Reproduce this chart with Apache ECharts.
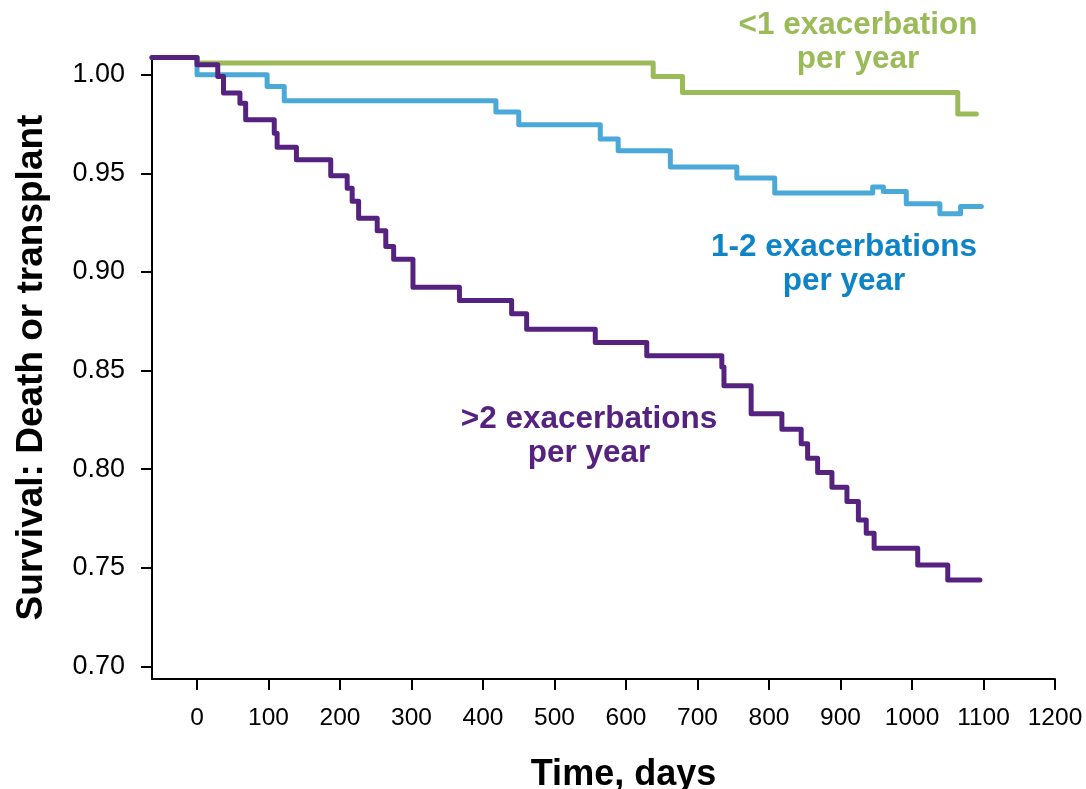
<!DOCTYPE html>
<html>
<head>
<meta charset="utf-8">
<title>Survival by exacerbation rate</title>
<script src="https://cdn.jsdelivr.net/npm/echarts@6/dist/echarts.min.js"></script>
<style>
  html, body { margin: 0; padding: 0; background: #fff; overflow: hidden; }
  #chart { width: 1086px; height: 789px; }
</style>
</head>
<body>
<div id="chart"></div>
<script>
// 刻度
const xTicks = [0, 100, 200, 300, 400, 500, 600, 700, 800, 900, 1000, 1100, 1200]
const yTicks = [0.70, 0.75, 0.80, 0.85, 0.90, 0.95, 1.00]

// <1 exacerbation per year
const lowDays = [-63, 0, 638, 679, 1064, 1090]
const lowSurv = [1.0088, 1.0059, 0.9991, 0.9910, 0.9801, 0.9801]

// 1-2 exacerbations per year
const midDays = [-63, 0, 98, 122, 418, 450, 564, 589, 662, 755, 808, 945, 960, 992, 1039, 1068, 1097]
const midSurv = [1.0088, 1.0000, 0.9941, 0.9868, 0.9811, 0.9746, 0.9674, 0.9615, 0.9532, 0.9476, 0.9400, 0.9431, 0.9408, 0.9346, 0.9295, 0.9332, 0.9332]

// >2 exacerbations per year
const highDays = [-63, 0, 29, 37, 60, 68, 108, 112, 139, 187, 210, 217, 226, 252, 264, 275, 302, 367, 440, 461,
  557, 629, 734, 737, 775, 818, 845, 854, 868, 888, 909, 925, 936, 947, 1008, 1050, 1095]
const highSurv = [1.0088, 1.0051, 0.9991, 0.9907, 0.9856, 0.9772, 0.9704, 0.9633, 0.9569, 0.9488, 0.9425, 0.9358,
  0.9273, 0.9209, 0.9129, 0.9065, 0.8923, 0.8856, 0.8788, 0.8710, 0.8642, 0.8575, 0.8518, 0.8423, 0.8281, 0.8203,
  0.8129, 0.8056, 0.7983, 0.7909, 0.7836, 0.7743, 0.7676, 0.7600, 0.7515, 0.7439, 0.7439]

const seriesLabels = ['<1 exacerbation\nper year', '1-2 exacerbations\nper year', '>2 exacerbations\nper year']

const FONT = 'Arial, "Liberation Sans", Helvetica, sans-serif'
const GREEN = '#9BBB59'
const BLUE = '#4BA9D9'
const BLUE_TEXT = '#0E84C8'
const PURPLE = '#55237F'

const zip = (xs, ys) => xs.map((x, i) => [x, ys[i]])

const chart = echarts.init(document.getElementById('chart'), null, { renderer: 'canvas' })

const stepLine = (name, days, surv, color) => ({
  name,
  type: 'line',
  step: 'end',
  data: zip(days, surv),
  showSymbol: false,
  symbol: 'none',
  silent: true,
  lineStyle: { color, width: 5, cap: 'round', join: 'round' }
})

const labelText = (text, x, y, color) => ({
  type: 'text', x, y,
  style: { text, font: 'bold 31.5px ' + FONT, fill: color, align: 'center', verticalAlign: 'middle', lineHeight: 34 }
})

chart.setOption({
  backgroundColor: '#fff',
  animation: false,
  grid: { left: 152, right: 31, top: 56, bottom: 110, containLabel: false, outerBoundsMode: 'none' },
  xAxis: {
    type: 'value',
    min: -63,
    max: 1200,
    name: 'Time, days',
    nameLocation: 'middle',
    nameGap: 78,
    nameTextStyle: { fontFamily: FONT, fontSize: 36, fontWeight: 'bold', color: '#000', padding: [0, 0, 0, 40] },
    axisLine: { onZero: false, lineStyle: { color: '#000', width: 2 } },
    axisTick: { show: true, length: 11, lineStyle: { color: '#000', width: 2 }, customValues: xTicks },
    axisLabel: { fontFamily: FONT, fontSize: 24.5, color: '#000', margin: 27, customValues: xTicks, formatter: v => String(v) },
    splitLine: { show: false }
  },
  yAxis: {
    type: 'value',
    min: 0.69366,
    max: 1.0095,
    name: 'Survival: Death or transplant',
    nameLocation: 'middle',
    nameGap: 102,
    nameRotate: 90,
    nameTextStyle: { fontFamily: FONT, fontSize: 37, fontWeight: 'bold', color: '#000' },
    axisLine: { show: true, onZero: false, lineStyle: { color: '#000', width: 2 } },
    axisTick: { show: true, length: 11, lineStyle: { color: '#000', width: 2 }, customValues: yTicks },
    axisLabel: {
      fontFamily: FONT, fontSize: 27, color: '#000', margin: 27,
      customValues: yTicks,
      formatter: v => v.toFixed(2)
    },
    splitLine: { show: false }
  },
  graphic: [
    labelText(seriesLabels[0], 858, 42, GREEN),
    labelText(seriesLabels[1], 844, 264, BLUE_TEXT),
    labelText(seriesLabels[2], 589, 436, PURPLE)
  ],
  series: [
    stepLine('<1 exacerbation per year', lowDays, lowSurv, GREEN),
    stepLine('1-2 exacerbations per year', midDays, midSurv, BLUE),
    stepLine('>2 exacerbations per year', highDays, highSurv, PURPLE)
  ]
})

window.addEventListener('resize', () => chart.resize())
</script>
</body>
</html>
